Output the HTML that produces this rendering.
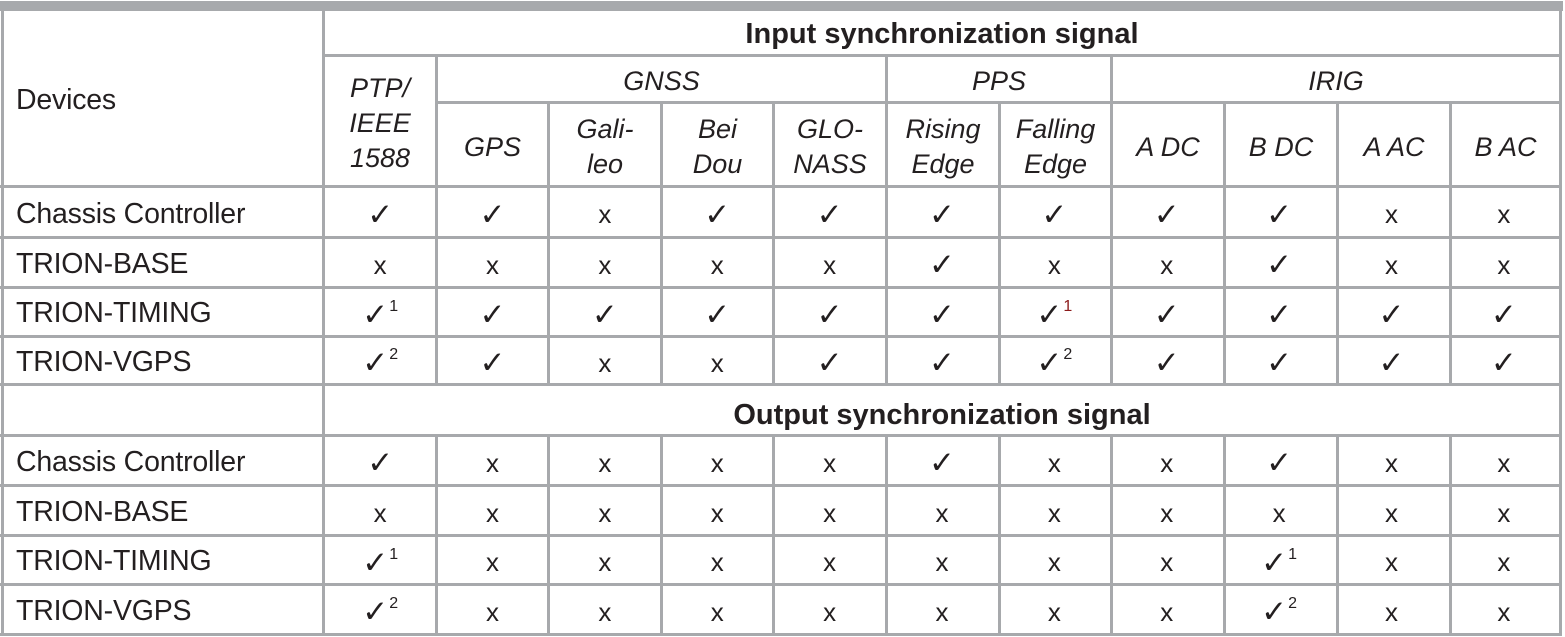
<!DOCTYPE html>
<html><head><meta charset="utf-8"><style>
*{margin:0;padding:0;box-sizing:border-box}
body{width:1565px;height:637px;background:#fff;position:relative;overflow:hidden;font-family:"Liberation Sans",Arial,sans-serif;color:#231f20}
.h,.v{position:absolute;background:#a7a9ac}
.h{height:3px}.v{width:3px}
.row{position:absolute;left:324px;width:1236px;display:grid;grid-template-columns:repeat(11,1fr);align-items:center;text-align:center;font-size:26px;padding-top:5px}
.row span{display:block}
.ck{font-family:"DejaVu Sans",sans-serif;font-size:31px;font-weight:normal}
sup{font-family:"Liberation Sans",sans-serif;font-size:16px;vertical-align:14px;margin-left:1px}
.lab{position:absolute;left:16px;font-size:28.5px;letter-spacing:-0.2px}
.it{font-style:italic;font-size:27px;line-height:35px;padding-top:5px}
.cell{position:absolute;display:flex;align-items:center;justify-content:center;text-align:center}
.b{font-weight:bold;font-size:29px}
</style></head><body>
<div class="h" style="left:0;top:1px;width:1563px;height:10px"></div>
<div class="v" style="left:1px;top:1px;height:635px"></div>
<div class="v" style="left:1559px;top:1px;height:635px"></div>
<div class="v" style="left:322px;top:1px;height:635px"></div>
<div class="h" style="left:322px;top:54px;width:1240px"></div>
<div class="h" style="left:435px;top:101px;width:1127px"></div>
<div class="h" style="left:0;top:185px;width:1562px"></div>
<div class="h" style="left:0;top:236px;width:1562px"></div>
<div class="h" style="left:0;top:286px;width:1562px"></div>
<div class="h" style="left:0;top:335px;width:1562px"></div>
<div class="h" style="left:0;top:383px;width:1562px"></div>
<div class="h" style="left:0;top:434px;width:1562px"></div>
<div class="h" style="left:0;top:484px;width:1562px"></div>
<div class="h" style="left:0;top:534px;width:1562px"></div>
<div class="h" style="left:0;top:583px;width:1562px"></div>
<div class="h" style="left:0;top:633px;width:1562px"></div>
<div class="v" style="left:435px;top:54px;height:330px"></div>
<div class="v" style="left:885px;top:54px;height:330px"></div>
<div class="v" style="left:1110px;top:54px;height:330px"></div>
<div class="v" style="left:547px;top:101px;height:283px"></div>
<div class="v" style="left:660px;top:101px;height:283px"></div>
<div class="v" style="left:772px;top:101px;height:283px"></div>
<div class="v" style="left:998px;top:101px;height:283px"></div>
<div class="v" style="left:1223px;top:101px;height:283px"></div>
<div class="v" style="left:1336px;top:101px;height:283px"></div>
<div class="v" style="left:1449px;top:101px;height:283px"></div>
<div class="v" style="left:435px;top:434px;height:202px"></div>
<div class="v" style="left:547px;top:434px;height:202px"></div>
<div class="v" style="left:660px;top:434px;height:202px"></div>
<div class="v" style="left:772px;top:434px;height:202px"></div>
<div class="v" style="left:885px;top:434px;height:202px"></div>
<div class="v" style="left:998px;top:434px;height:202px"></div>
<div class="v" style="left:1110px;top:434px;height:202px"></div>
<div class="v" style="left:1223px;top:434px;height:202px"></div>
<div class="v" style="left:1336px;top:434px;height:202px"></div>
<div class="v" style="left:1449px;top:434px;height:202px"></div>

<div class="lab" style="top:84px">Devices</div>
<div class="cell b" style="left:325px;top:14px;width:1234px;height:40px">Input synchronization signal</div>
<div class="cell b" style="left:325px;top:394px;width:1234px;height:42px">Output synchronization signal</div>
<div class="cell it" style="left:325px;top:57px;width:110px;height:128px">PTP/<br>IEEE<br>1588</div>
<div class="cell it" style="left:438px;top:57px;width:447px;height:44px">GNSS</div>
<div class="cell it" style="left:888px;top:57px;width:222px;height:44px">PPS</div>
<div class="cell it" style="left:1113px;top:57px;width:446px;height:44px">IRIG</div>
<div class="cell it" style="left:438px;top:104px;width:109px;height:81px">GPS</div>
<div class="cell it" style="left:550px;top:104px;width:110px;height:81px">Gali-<br>leo</div>
<div class="cell it" style="left:663px;top:104px;width:109px;height:81px">Bei<br>Dou</div>
<div class="cell it" style="left:775px;top:104px;width:110px;height:81px">GLO-<br>NASS</div>
<div class="cell it" style="left:888px;top:104px;width:110px;height:81px">Rising<br>Edge</div>
<div class="cell it" style="left:1001px;top:104px;width:109px;height:81px">Falling<br>Edge</div>
<div class="cell it" style="left:1113px;top:104px;width:110px;height:81px">A DC</div>
<div class="cell it" style="left:1226px;top:104px;width:110px;height:81px">B DC</div>
<div class="cell it" style="left:1339px;top:104px;width:110px;height:81px">A AC</div>
<div class="cell it" style="left:1452px;top:104px;width:107px;height:81px">B AC</div>

<div class="lab" style="top:198px">Chassis Controller</div>
<div class="lab" style="top:248px">TRION-BASE</div>
<div class="lab" style="top:297px">TRION-TIMING</div>
<div class="lab" style="top:346px">TRION-VGPS</div>
<div class="lab" style="top:446px">Chassis Controller</div>
<div class="lab" style="top:496px">TRION-BASE</div>
<div class="lab" style="top:545px">TRION-TIMING</div>
<div class="lab" style="top:595px">TRION-VGPS</div>

<div class="row" style="top:188px;height:48px"><span class="ck">✓</span><span class="ck">✓</span><span>x</span><span class="ck">✓</span><span class="ck">✓</span><span class="ck">✓</span><span class="ck">✓</span><span class="ck">✓</span><span class="ck">✓</span><span>x</span><span>x</span></div>
<div class="row" style="top:239px;height:47px"><span>x</span><span>x</span><span>x</span><span>x</span><span>x</span><span class="ck">✓</span><span>x</span><span>x</span><span class="ck">✓</span><span>x</span><span>x</span></div>
<div class="row" style="top:289px;height:46px"><span class="ck">✓<sup>1</sup></span><span class="ck">✓</span><span class="ck">✓</span><span class="ck">✓</span><span class="ck">✓</span><span class="ck">✓</span><span class="ck">✓<sup style="color:#8b1a1a">1</sup></span><span class="ck">✓</span><span class="ck">✓</span><span class="ck">✓</span><span class="ck">✓</span></div>
<div class="row" style="top:338px;height:45px"><span class="ck">✓<sup>2</sup></span><span class="ck">✓</span><span>x</span><span>x</span><span class="ck">✓</span><span class="ck">✓</span><span class="ck">✓<sup>2</sup></span><span class="ck">✓</span><span class="ck">✓</span><span class="ck">✓</span><span class="ck">✓</span></div>

<div class="row" style="top:437px;height:47px"><span class="ck">✓</span><span>x</span><span>x</span><span>x</span><span>x</span><span class="ck">✓</span><span>x</span><span>x</span><span class="ck">✓</span><span>x</span><span>x</span></div>
<div class="row" style="top:487px;height:47px"><span>x</span><span>x</span><span>x</span><span>x</span><span>x</span><span>x</span><span>x</span><span>x</span><span>x</span><span>x</span><span>x</span></div>
<div class="row" style="top:537px;height:46px"><span class="ck">✓<sup>1</sup></span><span>x</span><span>x</span><span>x</span><span>x</span><span>x</span><span>x</span><span>x</span><span class="ck">✓<sup>1</sup></span><span>x</span><span>x</span></div>
<div class="row" style="top:586px;height:47px"><span class="ck">✓<sup>2</sup></span><span>x</span><span>x</span><span>x</span><span>x</span><span>x</span><span>x</span><span>x</span><span class="ck">✓<sup>2</sup></span><span>x</span><span>x</span></div>
</body></html>
